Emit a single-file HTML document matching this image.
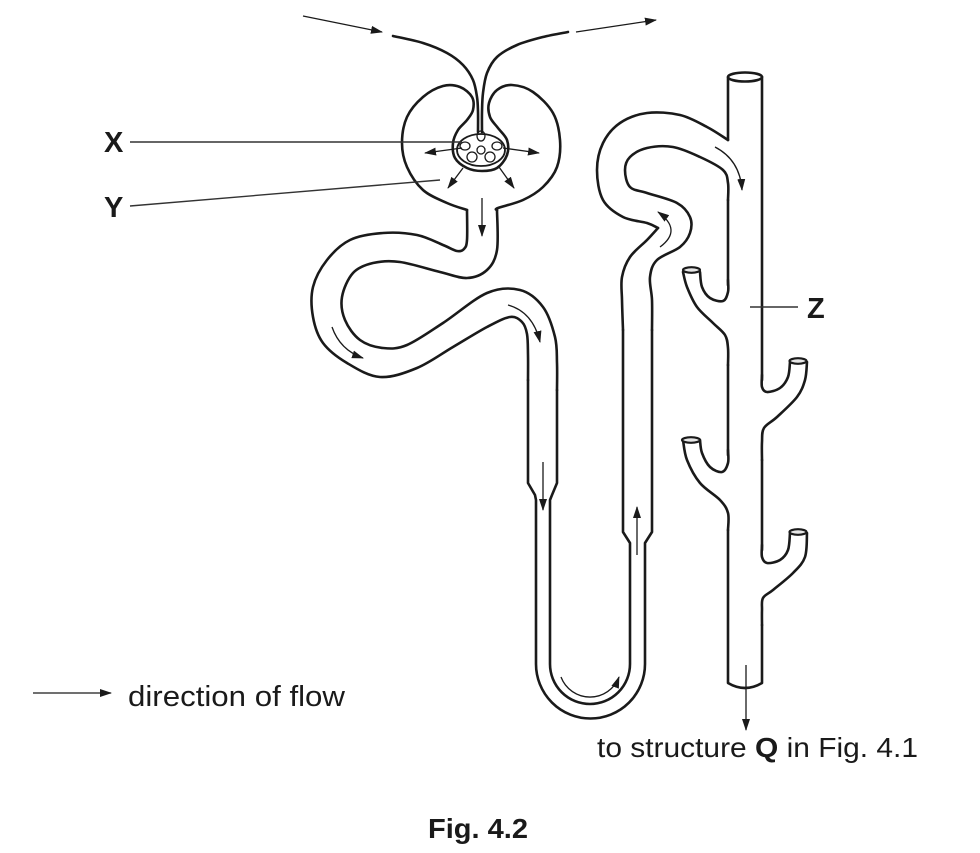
<!DOCTYPE html>
<html>
<head>
<meta charset="utf-8">
<style>
  html,body{margin:0;padding:0;background:#fff;}
  svg{display:block;}
  text{font-family:"Liberation Sans",Arial,Helvetica,sans-serif;fill:#1a1a1a;}
</style>
</head>
<body>
<svg width="980" height="853" viewBox="0 0 980 853" xmlns="http://www.w3.org/2000/svg">
  <defs>
    <marker id="ah" viewBox="0 0 12 8" refX="11" refY="4" markerWidth="12" markerHeight="8" markerUnits="userSpaceOnUse" orient="auto">
      <path d="M0,0 L12,4 L0,8 z" fill="#1a1a1a"/>
    </marker>
  </defs>

  <g fill="none" stroke="#1a1a1a" stroke-width="2.6" stroke-linecap="round" stroke-linejoin="round">
    <!-- arterioles -->
    <path class="cr" d="M393,36 L423,43 L447,53 L463,65 L473,80 L477,97 L478,112 L478,132"/>
    <path class="cr" d="M568,32 L543,37 L517,45 L497,57 L487,73 L483,93 L482,112 L482,132"/>
    <!-- Bowman's capsule -->
    <path class="cr" d="M467,210 L447,203 L423,190 L407,167 L402,143 L407,117 L423,97 L443,86 L460,87 L472,97 L473,110 L467,120 L458,130 L453,143 L455,158 L467,168 L482,171 L497,168 L507,155 L507,140 L498,128 L490,117 L489,103 L497,90 L512,85 L533,92 L553,113 L560,140 L557,167 L543,187 L523,200 L498,208 L497,210"/>

    <!-- R line -->
    <path class="cr" d="M467,210 L467,240 L464,249 L457,251 L443,245 L417,235 L383,233 L350,240 L327,260 L313,287 L313,317 L323,343 L347,363 L380,377 L417,368 L453,347 L487,327 L510,317 L522,322 L527,334 L528,355 L528,380"/>
    <path d="M528,380 L528,483 L535,495 L536,500 L536,664 A54.5,54.5 0 0 0 645,664 L645,543 L652,532 L652,330"/>
    <path class="cr" d="M652,330 L652,300 L650,277 L657,260 L680,247 L690,233 L690,217 L677,203 L647,193 L630,187 L625,170 L630,157 L647,148 L673,147 L700,157 L723,170 L728,183 L728,200"/>
    <path d="M728,200 L728,285"/>
    <path class="cr" d="M728,280 L728,292 L723,301 L710,298 L702,287 L700,272"/>

    <!-- L line -->
    <path class="cr" d="M497,210 L497,250 L487,270 L467,278 L440,272 L400,262 L373,263 L353,273 L342,297 L345,320 L360,340 L383,348 L407,345 L443,323 L487,293 L520,290 L543,307 L555,337 L557,363 L557,390"/>
    <path d="M557,390 L557,483 L552,495 L550,500 L550,664 A40,40 0 0 0 630,664 L630,543 L623,532 L623,330"/>
    <path class="cr" d="M623,330 L622,300 L622,277 L630,257 L647,240 L658,228"/>
    <path class="cr" d="M658,228 L647,223 L623,217 L603,200 L597,170 L603,143 L620,123 L647,113 L680,115 L707,127 L728,140"/>

    <!-- collecting duct -->
    <path d="M728,77 L728,140"/>
    <path d="M762,77 L762,380"/>
    <path class="cr" d="M762,375 L762,387 L767,392 L780,388 L788,377 L790,362"/>
    <path class="cr" d="M807,362 L805,380 L797,397 L777,417 L764,428 L762,442 L762,460"/>
    <path d="M762,460 L762,550"/>
    <path class="cr" d="M762,545 L762,557 L767,563 L780,560 L788,550 L790,533"/>
    <path class="cr" d="M807,533 L805,557 L793,573 L773,590 L763,598 L762,610 L762,625"/>
    <path d="M762,625 L762,683 Q745,693 728,683 L728,530"/>
    <path class="cr" d="M683,272 L687,287 L697,307 L713,323 L725,335 L728,348 L728,365"/>
    <path d="M728,365 L728,455"/>
    <path class="cr" d="M728,450 L728,463 L722,472 L710,467 L702,453 L700,440"/>
    <path class="cr" d="M683,440 L687,460 L700,483 L720,500 L728,513 L728,530"/>

    <ellipse cx="745" cy="77" rx="17" ry="4.5" fill="#fff"/>
    <ellipse cx="691.5" cy="270" rx="8.5" ry="2.8" fill="#e6e6e6" stroke-width="2.2"/>
    <ellipse cx="691" cy="440" rx="9" ry="2.8" fill="#e6e6e6" stroke-width="2.2"/>
    <ellipse cx="798" cy="361" rx="8.5" ry="2.8" fill="#e6e6e6" stroke-width="2.2"/>
    <ellipse cx="798" cy="532" rx="8.5" ry="2.8" fill="#e6e6e6" stroke-width="2.2"/>
  </g>

  <!-- glomerulus -->
  <g fill="none" stroke="#1a1a1a" stroke-width="1.3">
    <ellipse cx="481" cy="150" rx="24" ry="16" stroke-width="1.8"/>
    <ellipse cx="481" cy="136" rx="4" ry="5"/>
    <ellipse cx="465" cy="146" rx="5" ry="4"/>
    <ellipse cx="497" cy="146" rx="5" ry="4"/>
    <ellipse cx="481" cy="150" rx="4" ry="4"/>
    <ellipse cx="472" cy="157" rx="5" ry="5"/>
    <ellipse cx="490" cy="157" rx="5" ry="5"/>
  </g>

  <!-- label lines -->
  <g stroke="#333" stroke-width="1.4" fill="none">
    <path d="M130,142 L462,142"/>
    <path d="M130,206 L440,180"/>
    <path d="M750,307 L798,307"/>
  </g>

  <!-- flow arrows -->
  <g stroke="#1a1a1a" stroke-width="1.3" fill="none" marker-end="url(#ah)">
    <path d="M33,693 L111,693"/>
    <path d="M303,16 L382,32"/>
    <path d="M576,32 L656,20"/>
    <path d="M462,148 L425,153"/>
    <path d="M503,148 L539,153"/>
    <path d="M463,168 L448,188"/>
    <path d="M499,167 L514,188"/>
    <path d="M482,198 L482,236"/>
    <path d="M332,327 Q340,350 363,358"/>
    <path d="M508,305 Q533,312 540,342"/>
    <path d="M543,462 L543,510"/>
    <path d="M637,555 L637,507"/>
    <path d="M561,677 A31,31 0 0 0 619,677"/>
    <path d="M715,147 Q740,160 742,190"/>
    <path d="M660,247 Q683,230 658,212"/>
    <path d="M746,665 L746,730"/>
  </g>

  <!-- text -->
  <text x="104" y="152" font-size="29" font-weight="bold">X</text>
  <text x="104" y="217" font-size="29" font-weight="bold">Y</text>
  <text x="807" y="318" font-size="29" font-weight="bold">Z</text>
  <text x="128" y="706" font-size="29" textLength="217" lengthAdjust="spacingAndGlyphs">direction of flow</text>
  <text x="597" y="757" font-size="28" textLength="321" lengthAdjust="spacingAndGlyphs">to structure <tspan font-weight="bold">Q</tspan> in Fig. 4.1</text>
  <text x="428" y="838" font-size="28" font-weight="bold" textLength="100" lengthAdjust="spacingAndGlyphs">Fig. 4.2</text>
</svg>
<script>
(function(){
  var paths=document.querySelectorAll('path.cr');
  for(var k=0;k<paths.length;k++){
    var p=paths[k];
    var nums=p.getAttribute('d').match(/-?\d+(\.\d+)?/g).map(Number);
    var pts=[];
    for(var i=0;i+1<nums.length;i+=2){pts.push([nums[i],nums[i+1]]);}
    if(pts.length<3)continue;
    var d='M'+pts[0][0]+','+pts[0][1];
    for(var i=0;i<pts.length-1;i++){
      var p0=pts[i-1]||pts[i],p1=pts[i],p2=pts[i+1],p3=pts[i+2]||p2;
      var c1x=p1[0]+(p2[0]-p0[0])/6,c1y=p1[1]+(p2[1]-p0[1])/6;
      var c2x=p2[0]-(p3[0]-p1[0])/6,c2y=p2[1]-(p3[1]-p1[1])/6;
      d+=' C'+c1x.toFixed(2)+','+c1y.toFixed(2)+' '+c2x.toFixed(2)+','+c2y.toFixed(2)+' '+p2[0]+','+p2[1];
    }
    p.setAttribute('d',d);
  }
})();
</script>
</body>
</html>
